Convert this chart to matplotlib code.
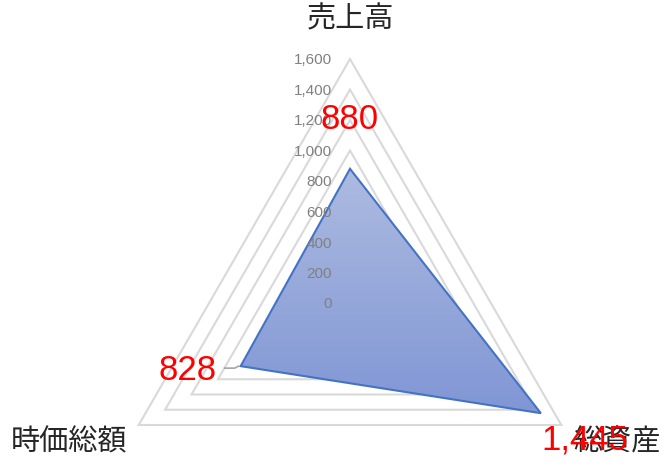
import numpy as np
import matplotlib
matplotlib.use("Agg")
import matplotlib.pyplot as plt
from matplotlib.patches import Polygon
from matplotlib.colors import LinearSegmentedColormap

categories = ["売上高", "総資産", "時価総額"]
values = [880, 1445, 828]
value_labels = ["880", "1,445", "828"]
ticks = [0, 200, 400, 600, 800, 1000, 1200, 1400, 1600]
tick_labels = ["0", "200", "400", "600", "800", "1,000", "1,200", "1,400", "1,600"]
rmax = 1600

W, H = 670, 469
fig = plt.figure(figsize=(W / 100, H / 100), dpi=100)
ax = fig.add_axes([0, 0, 1, 1])
scale = 244 / 1600.0  # px per unit
cx, cy = 350, 303
ax.set_xlim(-cx / scale, (W - cx) / scale)
ax.set_ylim(-(H - cy) / scale, cy / scale)
ax.set_aspect("equal")
ax.axis("off")

n = len(categories)
angles = np.pi / 2 - 2 * np.pi * np.arange(n) / n

def xy(r):
    r = np.asarray(r, dtype=float)
    return r * np.cos(angles), r * np.sin(angles)

# gridlines
for t in ticks[1:]:
    gx, gy = xy([t] * n)
    ax.add_patch(Polygon(np.column_stack([gx, gy]), closed=True, fill=False,
                         edgecolor="#d9d9d9", lw=1.5, zorder=1))

# data polygon with gradient
dx, dy = xy(values)
poly = Polygon(np.column_stack([dx, dy]), closed=True, facecolor="none",
               edgecolor="#4472c4", lw=1.5, zorder=4)
ax.add_patch(poly)
cmap = LinearSegmentedColormap.from_list("g", ["#8096d5", "#adbbe0"])
grad = np.linspace(0, 1, 256).reshape(-1, 1)
ymin, ymax = dy.min(), dy.max()
im = ax.imshow(grad, cmap=cmap, origin="lower", aspect="auto",
               extent=[dx.min(), dx.max(), ymin, ymax], zorder=3)
clip = Polygon(np.column_stack([dx, dy]), closed=True, transform=ax.transData)
im.set_clip_path(clip)

# tick labels
for t, lab in zip(ticks, tick_labels):
    ax.text(-18 / scale, t - 1.5 / scale, lab, ha="right", va="center",
            fontsize=11, color="#808080", family="Liberation Sans", zorder=5)

# category labels
cat_off = [(0, 40), (56, -17), (-70, -17)]
ox, oy = xy([rmax] * n)
for i, c in enumerate(categories):
    ax.text(ox[i] + cat_off[i][0] / scale, oy[i] + cat_off[i][1] / scale, c,
            ha="center", va="center", fontsize=21, color="#262626",
            family=["Noto Sans CJK JP", "DejaVu Sans"], zorder=6)

# data labels
lab_off = [(0, 49), (44, -27), (-53, -4)]
for i, lab in enumerate(value_labels):
    ax.text(dx[i] + lab_off[i][0] / scale, dy[i] + lab_off[i][1] / scale, lab,
            ha="center", va="center", fontsize=25, color="#ff0000",
            family="Liberation Sans", zorder=7)

# leader line for 828
lx = [dx[2] - 16 / scale, dx[2] - 6 / scale, dx[2] - 2 / scale]
ly = [dy[2] - 2 / scale, dy[2] - 2 / scale, dy[2] + 0 / scale]
ax.plot(lx, ly, color="#a6a6a6", lw=1.2, zorder=6)

fig.savefig("out.png", dpi=100)
